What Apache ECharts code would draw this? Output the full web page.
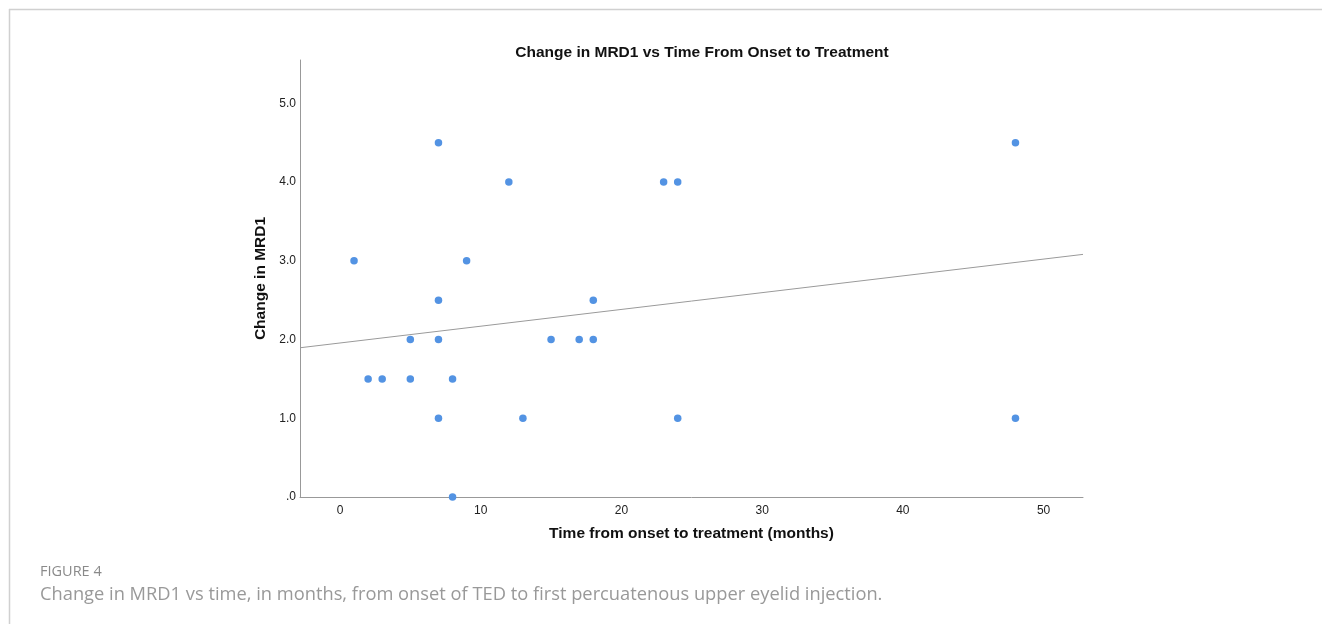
<!DOCTYPE html>
<html><head><meta charset="utf-8">
<script src="https://cdn.jsdelivr.net/npm/echarts@6/dist/echarts.min.js"></script>
<style>html,body{margin:0;padding:0;background:#fff}#c{width:1322px;height:624px}</style>
</head><body><div id="c"></div>
<script>
const months = [1,2,3,5,5,7,7,7,7,8,8,9,12,13,15,17,18,18,23,24,24,48,48];
const mrdChange = [3.0,1.5,1.5,2.0,1.5,4.5,2.5,2.0,1.0,1.5,0.0,3.0,4.0,1.0,2.0,2.0,2.5,2.0,4.0,4.0,1.0,4.5,1.0];
const xTicks = [0,10,20,30,40,50];
const yTicks = [0,1,2,3,4,5];
const xRange = [-2.84, 52.8];
const yRange = [0, 5.55];

// least squares fit line from the data
const n = months.length;
const mx = months.reduce((a,b)=>a+b,0)/n;
const my = mrdChange.reduce((a,b)=>a+b,0)/n;
let sxy=0, sxx=0;
for (let i=0;i<n;i++){ sxy += (months[i]-mx)*(mrdChange[i]-my); sxx += (months[i]-mx)**2; }
const slope = sxy/sxx, icpt = my - slope*mx;
const fit = [[xRange[0], icpt+slope*xRange[0]],[xRange[1], icpt+slope*xRange[1]]];

const chart = echarts.init(document.getElementById('c'));
const F = '"Liberation Sans", Arial, sans-serif';
chart.setOption({
  animation:false,
  textStyle:{fontFamily:F},
  title:{text:'Change in MRD1 vs Time From Onset to Treatment', left:697, top:40, textAlign:'center',
    textStyle:{fontFamily:F,fontSize:15.5,fontWeight:'bold',color:'#111'}},
  grid:{left:300,right:239,top:60,bottom:127},
  xAxis:{type:'value',min:xRange[0],max:xRange[1],
    name:'Time from onset to treatment (months)',nameLocation:'middle',nameGap:29,
    nameTextStyle:{fontFamily:F,fontSize:15.5,fontWeight:'bold',color:'#111'},
    axisLine:{show:true,onZero:false,lineStyle:{color:'#999',width:1}},
    axisTick:{show:false},splitLine:{show:false},
    axisLabel:{customValues:xTicks,color:'#222',fontSize:12,margin:8}},
  yAxis:{type:'value',min:yRange[0],max:yRange[1],
    name:'Change in MRD1',nameLocation:'middle',nameGap:28,
    nameTextStyle:{fontFamily:F,fontSize:15.5,fontWeight:'bold',color:'#111'},
    axisLine:{show:true,onZero:false,lineStyle:{color:'#999',width:1}},
    axisTick:{show:false},splitLine:{show:false},
    axisLabel:{customValues:yTicks,color:'#222',fontSize:12,margin:4,
      formatter:v=> v===0 ? '.0' : v.toFixed(1)}},
  series:[
    {type:'line',data:fit,symbol:'none',silent:true,lineStyle:{color:'#9a9a9a',width:1},z:1},
    {type:'scatter',data:months.map((x,i)=>[x,mrdChange[i]]),symbolSize:7.5,
      itemStyle:{color:'#5393e3',opacity:1},z:2,clip:false}
  ],
  graphic:[
    {type:'line',shape:{x1:9,y1:9.5,x2:1322,y2:9.5},style:{stroke:'#d0d0d0',lineWidth:1.5}},
    {type:'line',shape:{x1:9.5,y1:9,x2:9.5,y2:624},style:{stroke:'#d0d0d0',lineWidth:1.5}},
    {type:'text',left:40,top:564,style:{text:'FIGURE 4',fill:'#8a8a8a',font:'14.5px "Open Sans", sans-serif'}},
    {type:'text',left:40,top:586,style:{text:'Change in MRD1 vs time, in months, from onset of TED to first percuatenous upper eyelid injection.',fill:'#999',font:'18.3px "Open Sans", sans-serif'}}
  ]
});
</script></body></html>
